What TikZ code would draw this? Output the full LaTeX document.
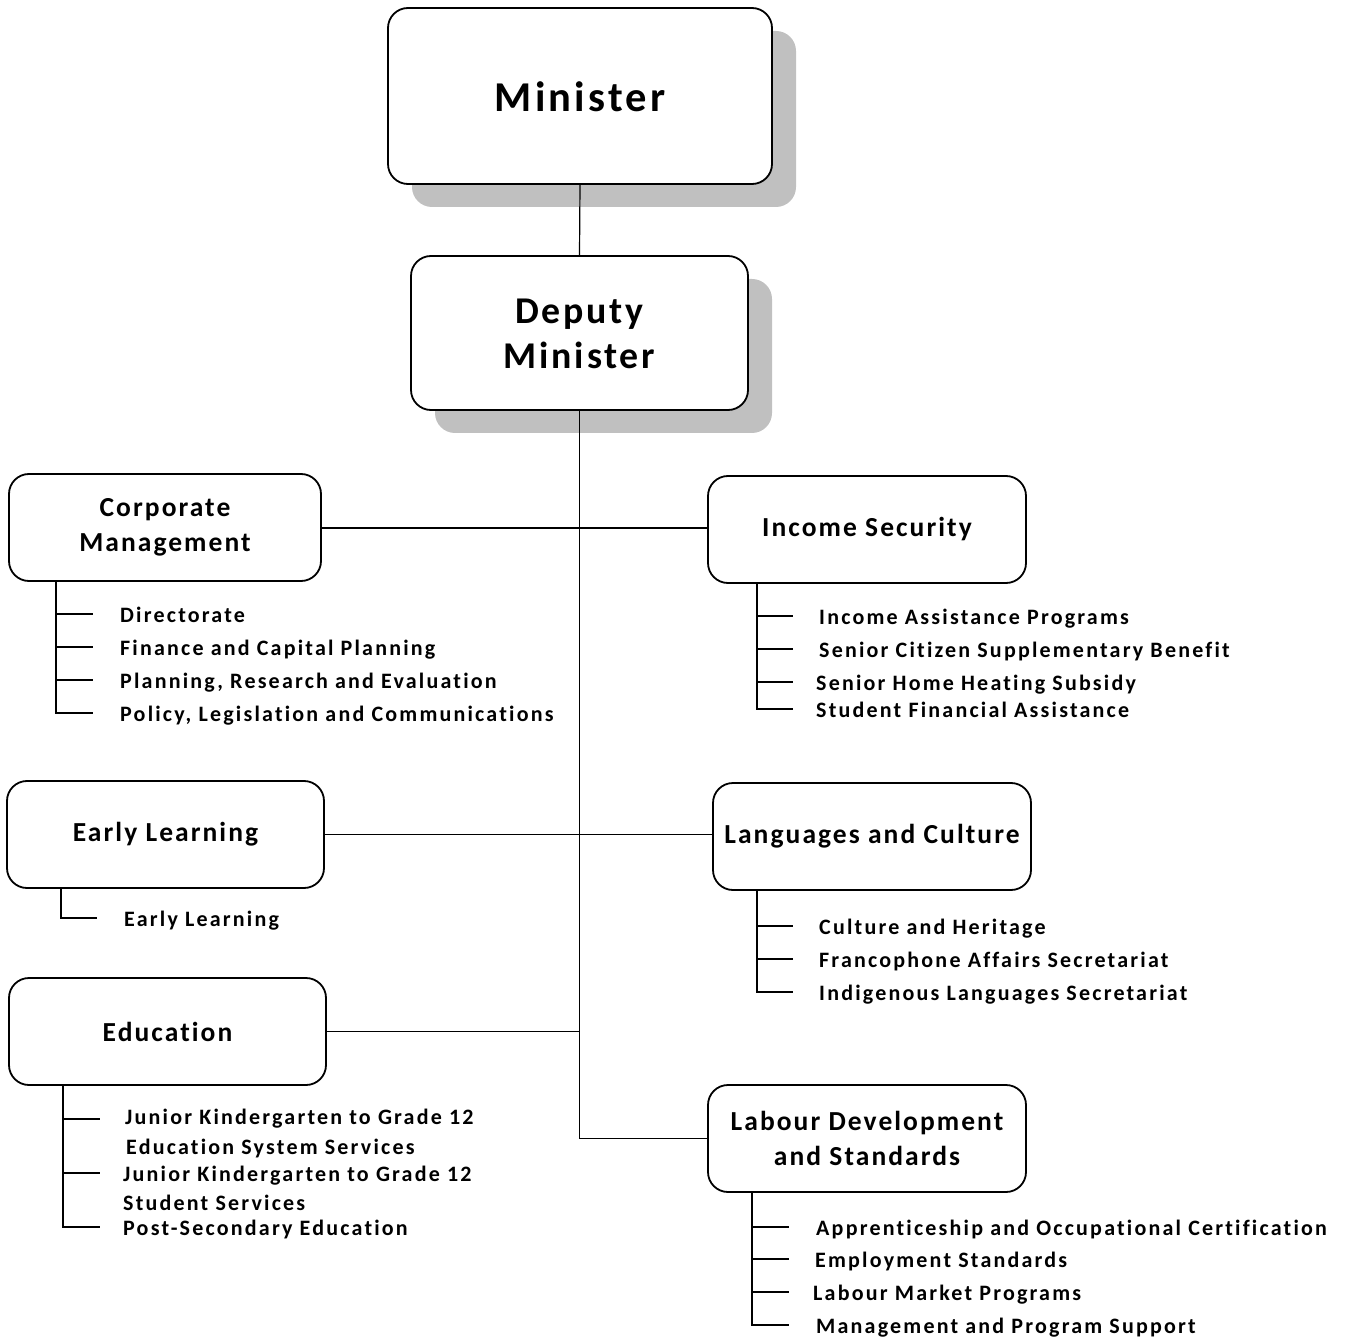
\documentclass[tikz,border=0pt]{standalone}
\usepackage{fontspec}
\setmainfont{Carlito}
\newfontfamily\titlefont[LetterSpace=7.5,Ligatures=NoCommon]{Carlito}
\newfontfamily\itemfont[LetterSpace=10,Ligatures=NoCommon]{Carlito}
\usetikzlibrary{shadows}
\definecolor{shadowgray}{RGB}{192,192,192}
\begin{document}
\begin{tikzpicture}[x=1pt,y=-1pt,
  box/.style={draw, line width=1.8pt, rounded corners=20pt, fill=white, align=center, inner sep=0pt},
  shbox/.style={box, drop shadow={shadow xshift=24pt, shadow yshift=-23pt, fill=shadowgray, opacity=1}},
  ttl/.style={font=\titlefont\bfseries\fontsize{27.5}{35.5}\selectfont},
  item/.style={anchor=west, inner sep=0pt, text height=21pt, text depth=4pt, font=\itemfont\bfseries\fontsize{22}{24}\selectfont},
  conn/.style={line width=1.2pt},
  sub/.style={line width=1.6pt}]
\useasboundingbox (0,0) rectangle (1345,1340);

% top boxes
\node[shbox, minimum width=384pt, minimum height=176pt] (min) at (580,96) {};
\node[font=\titlefont\bfseries\fontsize{42.5}{45}\selectfont] (mint) at (580,97) {Minister};
\node[shbox, minimum width=337pt, minimum height=154pt] (dep) at (579.5,333) {};
\node[font=\titlefont\bfseries\fontsize{37.8}{45}\selectfont, align=center] (dept) at (579.5,334) {Deputy\\Minister};

% branch boxes
\node[box, ttl, minimum width=312pt, minimum height=107pt] (cm) at (165,527.5) {Corporate\\Management};
\node[box, ttl, minimum width=318pt, minimum height=107pt] (is) at (867,529.5) {Income Security};
\node[box, ttl, minimum width=317pt, minimum height=107pt] (el) at (165.5,834.5) {Early Learning};
\node[box, ttl, minimum width=318pt, minimum height=107pt] (lc) at (872,836.5) {Languages and Culture};
\node[box, ttl, minimum width=317pt, minimum height=107pt] (ed) at (167.5,1031.5) {Education};
\node[box, ttl, minimum width=318pt, minimum height=107pt] (ld) at (867,1138.5) {Labour Development\\and Standards};

% connectors
\draw[conn] (min.south) -- (dep.north);
\coordinate (spineend) at (dep.south |- ld.west);
\draw[conn] (dep.south) -- (spineend) -- (ld.west);
\draw[conn] ([yshift=-0.5pt]cm.east) -- ([yshift=-0.5pt]cm.east -| is.west);
\draw[conn] (el.east) -- (el.east -| lc.west);
\draw[conn] (ed.east) -- (ed.east -| dep.south);

% Corporate Management items
\node[item] (c1) at (120,614) {Directorate};
\node[item] (c2) at (120,647) {Finance and Capital Planning};
\node[item] (c3) at (120,680) {Planning, Research and Evaluation};
\node[item] (c4) at (120,713) {Policy, Legislation and Communications};
\draw[sub] (56,0 |- cm.south) -- (56,0 |- c4.west) -- ++(37,0);
\foreach \n in {c1,c2,c3} \draw[sub] (56,0 |- \n.west) -- ++(37,0);

% Income Security items
\node[item] (i1) at (819,616) {Income Assistance Programs};
\node[item] (i2) at (819,649) {Senior Citizen Supplementary Benefit};
\node[item] (i3) at (816,682) {Senior Home Heating Subsidy};
\node[item] (i4) at (816,709) {Student Financial Assistance};
\draw[sub] (757,0 |- is.south) -- (757,0 |- i4.west) -- ++(36,0);
\foreach \n in {i1,i2,i3} \draw[sub] (757,0 |- \n.west) -- ++(36,0);

% Early Learning items
\node[item] (e1) at (124,918) {Early Learning};
\draw[sub] (61,0 |- el.south) -- (61,0 |- e1.west) -- ++(36,0);

% Languages and Culture items
\node[item] (l1) at (819,926) {Culture and Heritage};
\node[item] (l2) at (819,959) {Francophone Affairs Secretariat};
\node[item] (l3) at (819,992) {Indigenous Languages Secretariat};
\draw[sub] (757,0 |- lc.south) -- (757,0 |- l3.west) -- ++(36,0);
\foreach \n in {l1,l2} \draw[sub] (757,0 |- \n.west) -- ++(36,0);

% Education items
\node[item] (d1) at (125,1116) {Junior Kindergarten to Grade 12};
\node[item] (d1b) at (126,1146) {Education System Services};
\node[item] (d2) at (123,1173) {Junior Kindergarten to Grade 12};
\node[item] (d2b) at (123,1202) {Student Services};
\node[item] (d3) at (123,1227) {Post-Secondary Education};
\coordinate (t1) at (63,1119);
\draw[sub] (63,0 |- ed.south) -- (63,0 |- d3.west) -- ++(37,0);
\draw[sub] (t1) -- ++(37,0);
\draw[sub] (63,0 |- d2.west) -- ++(37,0);

% Labour Development items
\node[item] (a1) at (816,1227) {Apprenticeship and Occupational Certification};
\node[item] (a2) at (815,1259) {Employment Standards};
\node[item] (a3) at (813,1292) {Labour Market Programs};
\node[item] (a4) at (816,1325) {Management and Program Support};
\draw[sub] (752,0 |- ld.south) -- (752,0 |- a4.west) -- ++(37,0);
\foreach \n in {a1,a2,a3} \draw[sub] (752,0 |- \n.west) -- ++(37,0);
\end{tikzpicture}
\end{document}
